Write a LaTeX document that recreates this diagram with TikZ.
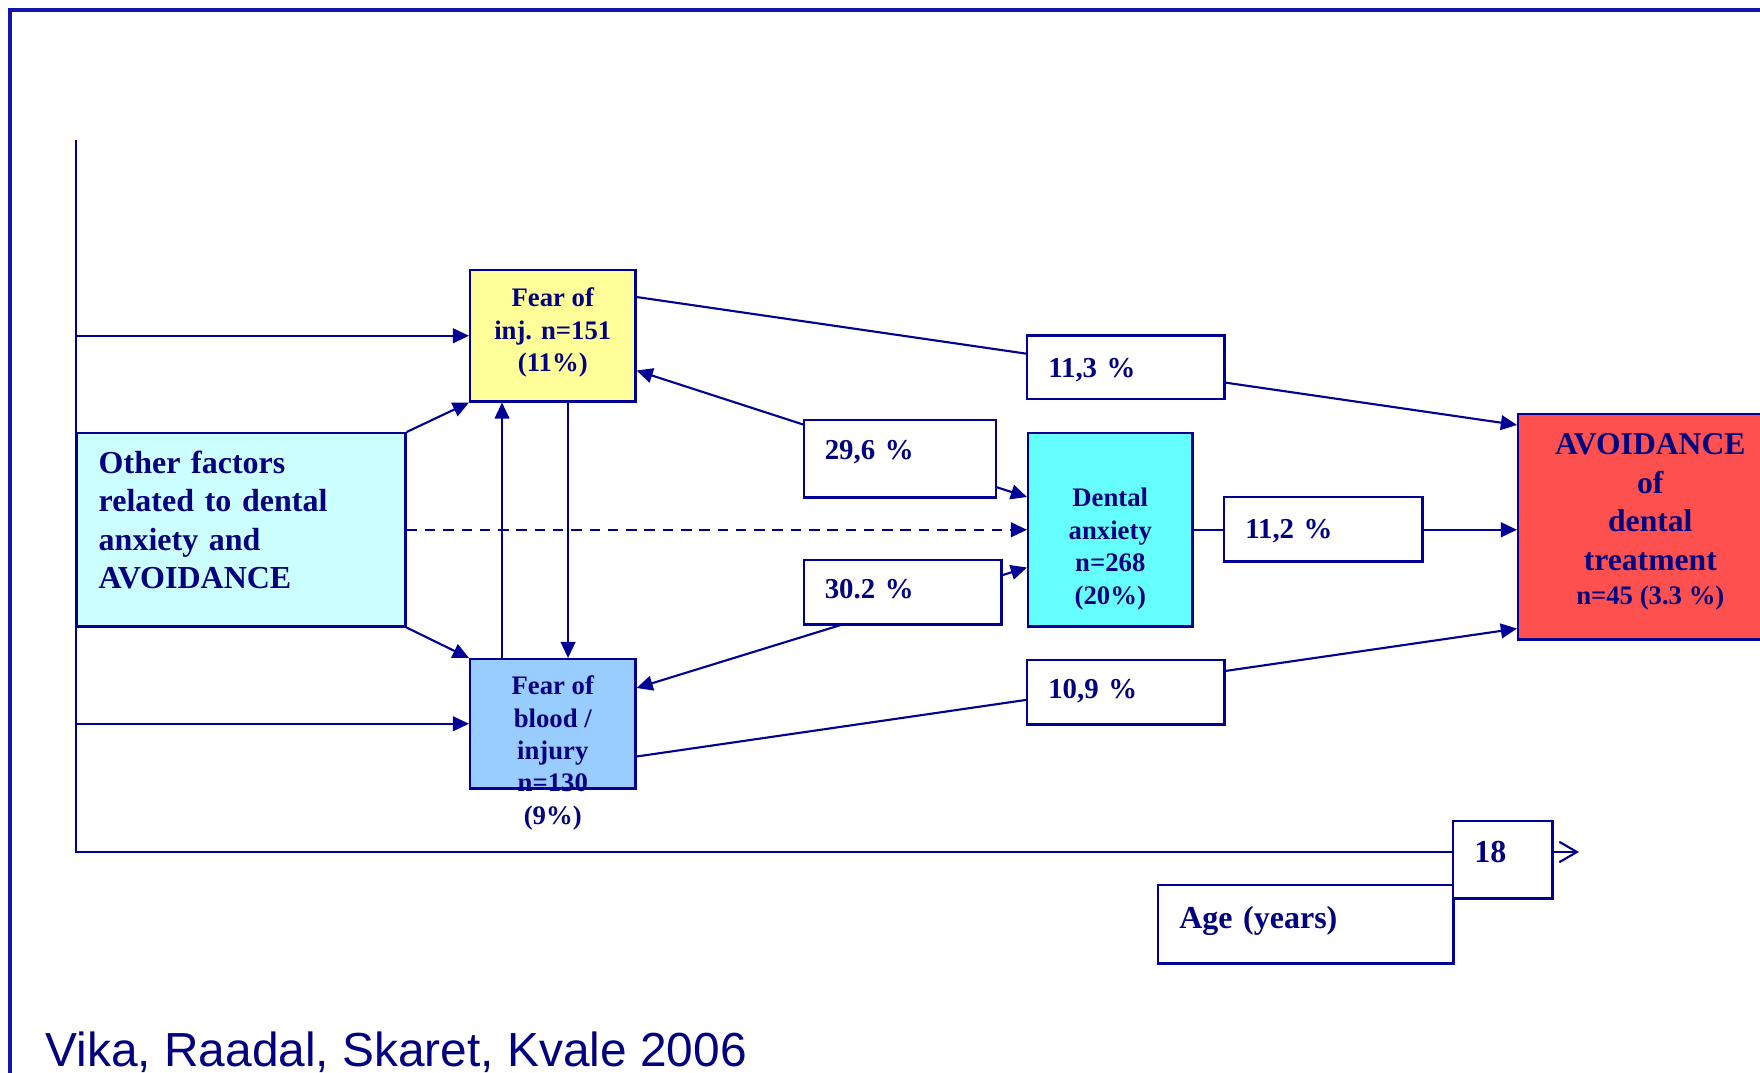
\documentclass[tikz,border=0pt]{standalone}
\usepackage{fontspec}
\setmainfont{Liberation Serif}
\newfontfamily\citefont{Liberation Sans}
\usetikzlibrary{arrows.meta,backgrounds}

\definecolor{txtnavy}{RGB}{0,0,128}
\definecolor{linenavy}{RGB}{0,0,150}
\definecolor{framenavy}{RGB}{20,20,175}
\definecolor{injyellow}{RGB}{255,255,153}
\definecolor{othcyan}{RGB}{204,255,255}
\definecolor{bloodblue}{RGB}{153,204,255}
\definecolor{dentcyan}{RGB}{102,255,255}
\definecolor{avored}{RGB}{255,80,80}

\tikzset{
    box/.style={draw=linenavy, line width=0.7pt, anchor=north west, inner sep=0pt, text=txtnavy, font=\bfseries},
    pct/.style={box, fill=white, align=left, inner xsep=0.21cm, font=\bfseries\fontsize{8.2}{9.8}\selectfont, text height=6pt, text depth=#1},
    pct/.default=0.5pt,
    boxtxt/.style={align=center, inner sep=0pt, text=txtnavy, font=\bfseries\fontsize{7.6}{9.2}\selectfont},
    link/.style={linenavy, line width=0.6pt},
    arr/.style={link, -{Triangle[length=4.6pt,width=4.2pt]}},
    arrs/.style={link, {Triangle[length=4.6pt,width=4.2pt]}-{Triangle[length=4.6pt,width=4.2pt]}},
}

\begin{document}
\begin{tikzpicture}[x=0.01cm, y=-0.01cm]
    \useasboundingbox (0,0) rectangle (1760,1073);
    \draw[framenavy, line width=0.9pt] (10,1090) -- (10,10) -- (1780,10);

    \coordinate (AxTop) at (76,140);
    \coordinate (AxBot) at (76,852);
    \coordinate (AxEnd) at (1579,852);

    \node[box, fill=injyellow, minimum width=1.65cm, minimum height=1.31cm] at (469,269) (FoI) {};
    \node[boxtxt, font=\bfseries\fontsize{7.6}{9.25}\selectfont] at ([yshift=0.03cm]FoI.center) (FoItxt) {Fear of\\inj. n=151\\(11\%)};
    \node[box, fill=othcyan, minimum width=3.28cm, minimum height=1.93cm] at (76,432) (Oth) {};
    \node[boxtxt, text width=2.85cm, align=left, font=\bfseries\fontsize{9.1}{10.95}\selectfont] at ([yshift=0.1cm]Oth.center) (Othtxt) {Other factors\\related to dental\\anxiety and\\AVOIDANCE};
    \node[box, fill=bloodblue, minimum width=1.65cm, minimum height=1.29cm] at (469,658) (FoB) {};
    \node[boxtxt] at ([yshift=-0.95cm]FoB.north) (FoBtxt) {Fear of\\blood /\\injury\\n=130\\(9\%)};
    \node[box, fill=dentcyan, minimum width=1.64cm, minimum height=1.93cm] at (1027,432) (Den) {};
    \node[boxtxt] at ([yshift=-1.17cm]Den.north) (Dentxt) {Dental\\anxiety\\n=268\\(20\%)};
    \node[box, fill=avored, minimum width=2.64cm, minimum height=2.25cm] at (1517,413) (Avo) {};
    \node[boxtxt, font=\bfseries\fontsize{9}{10.95}\selectfont] at ([yshift=0.05cm]Avo.center) (Avotxt) {AVOIDANCE\\of\\dental\\treatment\\[-1.3pt]{\fontsize{7.6}{9}\selectfont n=45 (3.3 \%)}};

    \node[pct, text width=1.55cm, minimum height=0.635cm] at (1026,334.5) (Pc113) {11,3 \%};
    \node[pct=5.3pt, text width=1.50cm, minimum height=0.77cm] at (802.5,419) (Pc296) {29,6 \%};
    \node[pct=2.2pt, text width=1.555cm, minimum height=0.64cm] at (802.5,559) (Pc302) {30.2 \%};
    \node[pct, text width=1.56cm, minimum height=0.64cm] at (1223,496) (Pc112) {11,2 \%};
    \node[pct=2.2pt, text width=1.55cm, minimum height=0.64cm] at (1026,659) (Pc109) {10,9 \%};
    \node[pct=4pt, text width=2.53cm, minimum height=0.78cm, font=\bfseries\fontsize{9.1}{11}\selectfont, text height=6.5pt] at (1157,884) (Yrs) {Age (years)};
    \node[pct=4.2pt, text width=0.57cm, minimum height=0.77cm, font=\bfseries\fontsize{9.1}{11}\selectfont] at (1452,820) (Eig) {18};

    \node[anchor=base west, inner sep=0pt, text=txtnavy, font=\citefont\fontsize{13.6}{16}\selectfont] at (45,1066) (Cite) {Vika, Raadal, Skaret, Kvale 2006};

    \begin{scope}[on background layer]
        \draw[link, -{Straight Barb[length=5pt,width=5.8pt]}] (AxTop) -- (AxBot) -- (AxEnd);
        \draw[arr] ([yshift=-0.28cm]FoI.north east) -- ([yshift=-0.12cm]Avo.north west);
        \draw[arrs] ([yshift=0.32cm]FoI.south east) -- ([yshift=-0.65cm]Den.north west);
        \draw[arrs] ([yshift=-0.30cm]FoB.north east) -- ([yshift=0.60cm]Den.south west);
        \draw[arr] (Den.east) -- (Den.east -| Avo.west);
        \draw[arr] ([yshift=0.33cm]FoB.south east) -- ([yshift=0.12cm]Avo.south west);
    \end{scope}

    \draw[arr] (FoI.west -| AxTop) -- (FoI.west);
    \draw[arr] (FoB.west -| AxTop) -- (FoB.west);
    \draw[arr] (Oth.north east) -- (FoI.south west);
    \draw[arr] (Oth.south east) -- (FoB.north west);
    \draw[arr, dash pattern=on 3pt off 2.2pt] (Oth.east) -- (Den.west);
    \draw[arr] ([xshift=0.33cm]FoB.north west) -- ([xshift=0.33cm]FoI.south west);
    \draw[arr] ([xshift=0.99cm]FoI.south west) -- ([xshift=0.99cm]FoB.north west);
\end{tikzpicture}
\end{document}
